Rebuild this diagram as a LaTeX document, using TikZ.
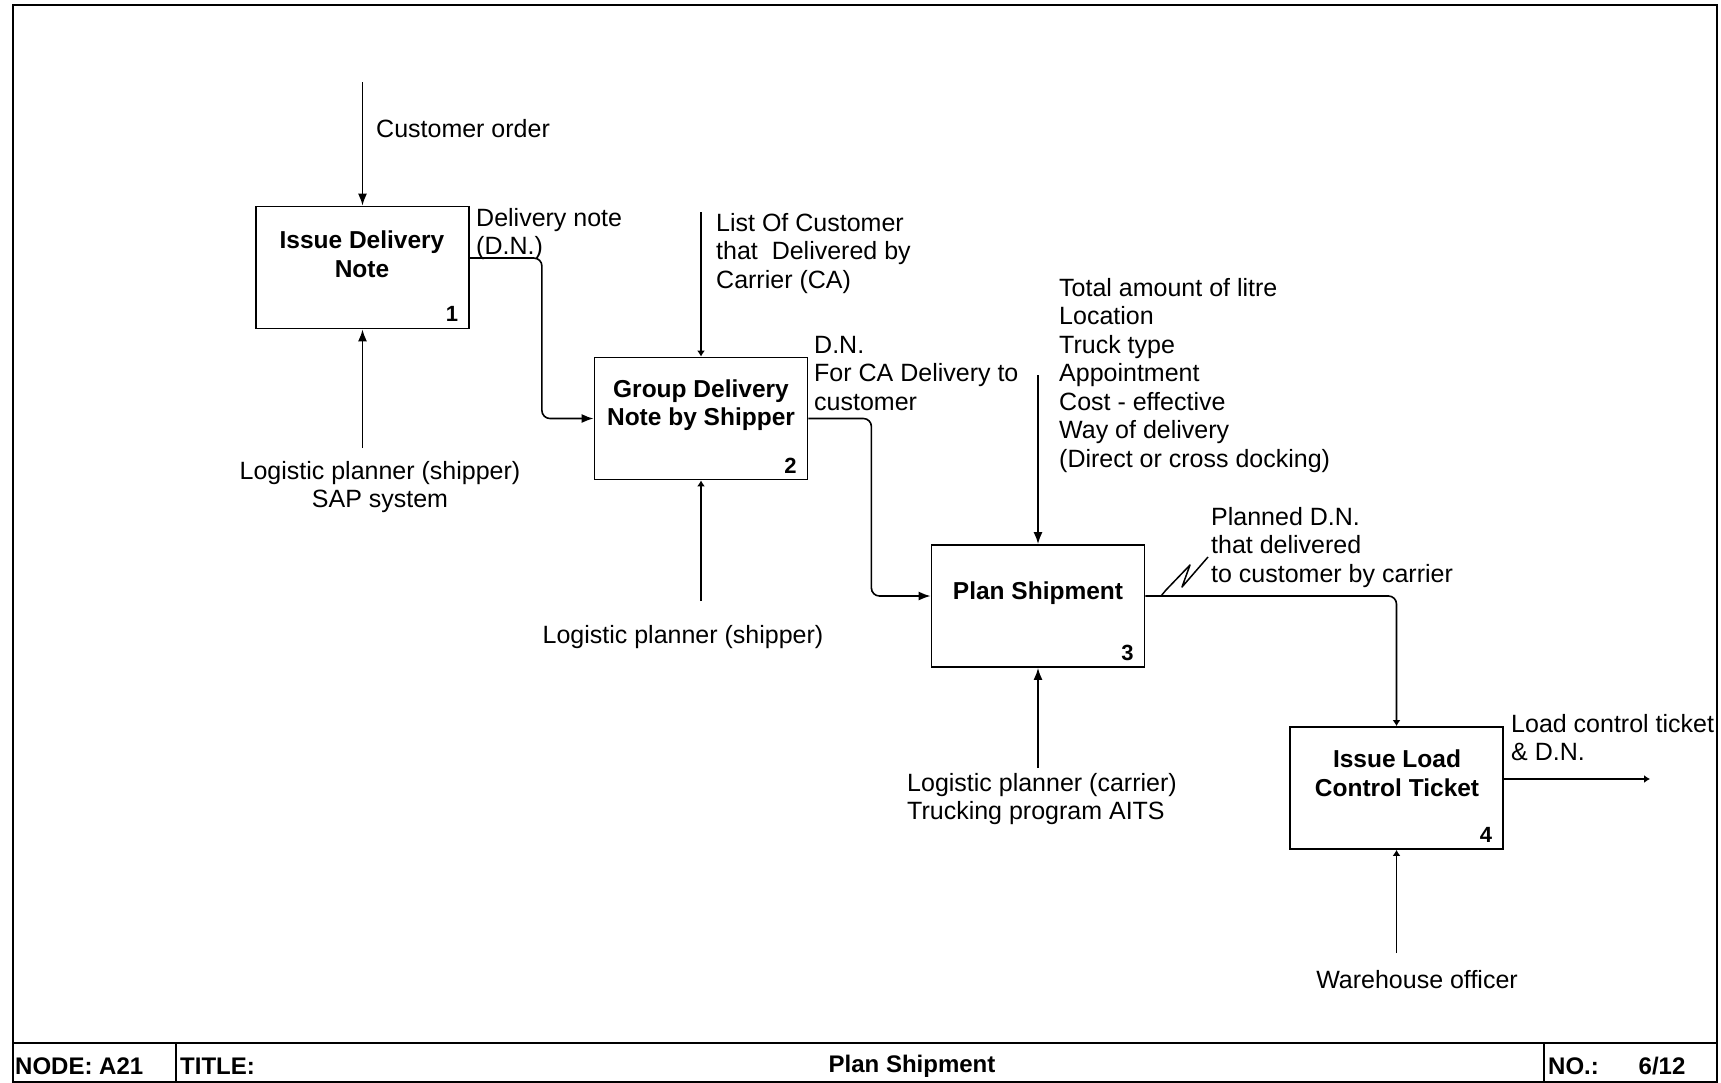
\documentclass[tikz,border=0pt]{standalone}
\usepackage{fontspec}
\setmainfont{Liberation Sans}
\usetikzlibrary{arrows.meta,calc}
\begin{document}
\begin{tikzpicture}[x=1pt,y=-1pt,
  lbl/.style={inner sep=0pt,font=\fontsize{25}{28.5}\selectfont},
  ttl/.style={inner sep=0pt,align=center,font=\bfseries\fontsize{24.5}{28.5}\selectfont},
  num/.style={inner sep=0pt,font=\bfseries\fontsize{22}{24}\selectfont},
  box/.style={draw,line width=1.8pt,minimum width=213pt,minimum height=122pt,inner sep=0pt},
  con/.style={line width=1.6pt},
  arr/.style={con,-{Latex[length=12pt,width=9pt]}},
  sarr/.style={con,-{Latex[length=6pt,width=8pt]}},
  bar/.style={inner sep=0pt,font=\bfseries\fontsize{24}{26}\selectfont}]
\useasboundingbox (0,0) rectangle (1721,1082);
% frame and title bar
\draw[line width=2pt] (13,5) rectangle (1717,1082);
\draw[line width=2pt] (13,1043) -- (1717,1043);
\draw[line width=1.5pt] (176,1043) -- (176,1082);
\draw[line width=1.5pt] (1544,1043) -- (1544,1082);
\node[bar,anchor=west] (node) at (15,1066) {NODE:\ A21};
\node[bar,anchor=west] (title) at (180,1066) {TITLE:};
\node[bar] (tname) at (912,1066) {Plan Shipment};
\node[bar,anchor=west] (no) at (1548,1066) {NO.:};
\node[bar] (page) at (1662,1066) {6/12};
% boxes
\node[box] (b1) at (362.5,267.5) {};
\node[box] (b2) at (701,418.5) {};
\node[box] (b3) at (1038,606) {};
\node[box] (b4) at (1396.5,788) {};
\node[ttl] (t1) at (362,254) {Issue Delivery\\Note};
\node[ttl] (t2) at (701,405) {Group Delivery\\Note by Shipper};
\node[ttl] (t3) at (1038,593) {Plan Shipment};
\node[ttl] (t4) at (1397,773) {Issue Load\\Control Ticket};
\node[num] (n1) at ($(b1.south east)+(-18,-15)$) {1};
\node[num] (n2) at ($(b2.south east)+(-18,-15)$) {2};
\node[num] (n3) at ($(b3.south east)+(-18,-15)$) {3};
\node[num] (n4) at ($(b4.south east)+(-18,-15)$) {4};
% free ends
\coordinate (c1) at (362.5,82);
\coordinate (m1) at (362.5,448);
\coordinate (c2) at (701,212);
\coordinate (m2) at (701,601);
\coordinate (c3) at (1038,375);
\coordinate (m3) at (1038,768);
\coordinate (m4) at (1396.5,953);
\coordinate (o4) at (1650,779);
% connectors
\draw[arr] (c1) -- (b1.north);
\draw[arr] (m1) -- (b1.south);
\draw[sarr] (c2) -- (b2.north);
\draw[sarr] (m2) -- (b2.south);
\draw[arr] (c3) -- (b3.north);
\draw[arr] (m3) -- (b3.south);
\draw[sarr] (m4) -- (b4.south);
\draw[arr,rounded corners=8pt] ([yshift=9.5pt]b1.east) -- ++(72,0) |- (b2.west);
\draw[arr,rounded corners=8pt] (b2.east) -- ++(63,0) |- ([yshift=10pt]b3.west);
\draw[sarr,rounded corners=8pt] ([yshift=10pt]b3.east) -| (b4.north);
\draw[sarr] ([yshift=9pt]b4.east) -- (o4);
% squiggle
\draw[line width=1.5pt,line join=round] (1161,596) -- (1166,590) -- (1190,565) -- (1182,587) -- (1208,557);
% labels
\node[lbl,anchor=north west] (l1) at (376,119) {Customer order};
\node[lbl,anchor=north west,align=left] (l2) at (476,208) {Delivery note\\(D.N.)};
\node[lbl,anchor=north,align=center] (l3) at (380,461) {Logistic planner (shipper)\\SAP system};
\node[lbl,anchor=north west,align=left] (l4) at (716,213) {List Of Customer\\that\ \ Delivered by\\Carrier (CA)};
\node[lbl,anchor=north] (l5) at (683,625) {Logistic planner (shipper)};
\node[lbl,anchor=north west,align=left] (l6) at (814,336) {D.N.\\For CA Delivery to\\customer};
\node[lbl,anchor=north west,align=left] (l7) at (1059,278) {Total amount of litre\\Location\\Truck type\\Appointment\\Cost - effective\\Way of delivery\\(Direct or cross docking)};
\node[lbl,anchor=north west,align=left] (l8) at (907,773) {Logistic planner (carrier)\\Trucking program AITS};
\node[lbl,anchor=north west,align=left] (l9) at (1211,507) {Planned D.N.\\that delivered\\to customer by carrier};
\node[lbl,anchor=north west,align=left] (l10) at (1511,714) {Load control ticket\\\& D.N.};
\node[lbl,anchor=north] (l11) at (1417,970) {Warehouse officer};
\end{tikzpicture}
\end{document}
